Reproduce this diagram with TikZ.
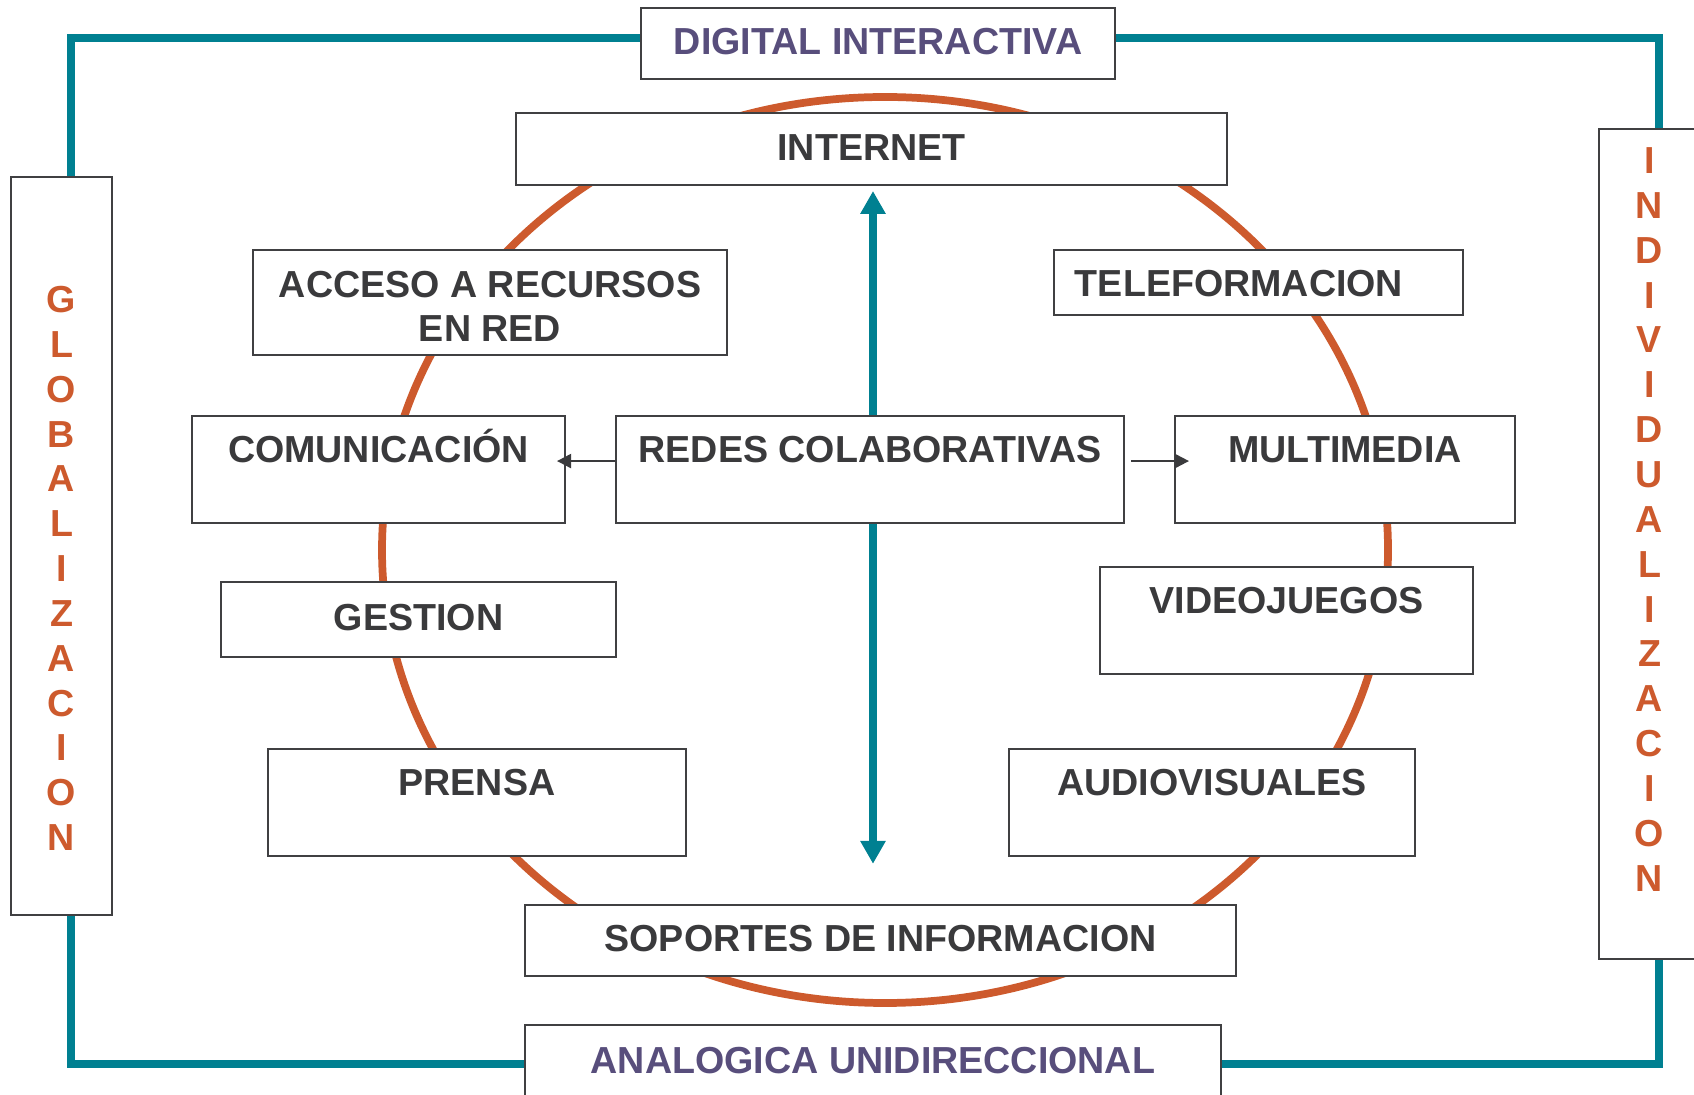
\documentclass[tikz,border=0pt]{standalone}
\usepackage{fontspec}
\setmainfont{Liberation Sans}
\usetikzlibrary{arrows.meta,backgrounds}
\definecolor{azul}{RGB}{0,128,145}
\definecolor{naranja}{RGB}{205,90,45}
\definecolor{morado}{RGB}{88,78,124}
\definecolor{texto}{RGB}{58,58,60}
\definecolor{borde}{RGB}{64,64,66}

\begin{document}
\begin{tikzpicture}[x=0.01cm, y=-0.01cm,
    caja/.style={draw=borde, line width=0.6pt, fill=white, inner sep=0pt, text=texto, align=center,
        font=\bfseries\fontsize{10.7}{12.5}\selectfont},
    linea/.style={caja, text height=6.3pt, text depth=0pt},
    arriba/.style={linea, text height=7.7pt, text depth=11.7pt},
    lado/.style={caja, minimum width=1.01cm},
    letras/.style={inner sep=0pt, align=center, text=naranja, font=\bfseries\fontsize{10.7}{12.75}\selectfont},
    eje/.style={color=azul, line width=2.2pt, -{Triangle[length=6.5pt, width=6.8pt]}},
    flecha/.style={color=texto, line width=0.6pt, -{Triangle[length=4pt, width=4pt]}},
    marco/.style={draw=azul, line width=2.2pt},
    orbita/.style={draw=naranja, line width=2.2pt}]
    \useasboundingbox (0,0) rectangle (1694,1095);

    \node[linea, text=morado, minimum width=4.74cm, minimum height=0.71cm] (digital) at (878,43.5) {DIGITAL INTERACTIVA};
    \node[linea, text=morado, minimum width=6.96cm, minimum height=0.75cm] (analogica) at (873,1062.5) {ANALOGICA UNIDIRECCIONAL};
    \node[lado, minimum height=7.38cm] (global) at (61.5,546) {};
    \node[lado, minimum height=8.30cm] (indiv) at (1649.5,544) {};
    \node[letras] (global-t) at ([yshift=-6.4pt]global.center) {G\\L\\O\\B\\A\\L\\I\\Z\\A\\C\\I\\O\\N};
    \node[letras] (indiv-t) at ([yshift=7pt]indiv.center) {I\\N\\D\\I\\V\\I\\D\\U\\A\\L\\I\\Z\\A\\C\\I\\O\\N};

    \node[linea, minimum width=7.11cm, minimum height=0.72cm] (internet) at (871.5,149) {INTERNET};
    \node[caja, text height=22.1pt, text depth=0pt, minimum width=4.74cm, minimum height=1.05cm] (acceso) at (490,302.5) {ACCESO A RECURSOS\\EN RED};
    \node[linea, text height=7.7pt, align=left, text width=104.4pt, inner xsep=6pt, minimum height=0.65cm] (telef) at (1258.5,282.5) {TELEFORMACION};
    \node[arriba, minimum width=3.73cm, minimum height=1.07cm] (comunic) at (378.5,469.5) {COMUNICACIÓN};
    \node[arriba, minimum width=5.08cm, minimum height=1.07cm] (redes) at (870,469.5) {REDES COLABORATIVAS};
    \node[arriba, minimum width=3.40cm, minimum height=1.07cm] (multi) at (1345,469.5) {MULTIMEDIA};
    \node[linea, minimum width=3.95cm, minimum height=0.75cm] (gestion) at (418.5,619.5) {GESTION};
    \node[arriba, minimum width=3.73cm, minimum height=1.07cm] (video) at (1286.5,620.5) {VIDEOJUEGOS};
    \node[arriba, minimum width=4.18cm, minimum height=1.07cm] (prensa) at (477,802.5) {PRENSA};
    \node[arriba, minimum width=4.06cm, minimum height=1.07cm] (audio) at (1212,802.5) {AUDIOVISUALES};
    \node[linea, minimum width=7.11cm, minimum height=0.71cm] (soportes) at (880.5,940.5) {SOPORTES DE INFORMACION};

    \begin{scope}[on background layer]
        \draw[marco] (71,38) rectangle (1659,1064);
        \draw[orbita] (885,550) ellipse [x radius=503, y radius=453];
    \end{scope}

    \draw[eje, shorten >=1.4pt] ([xshift=0.85pt]redes.north) -- ([xshift=0.85pt]redes.north |- internet.south);
    \draw[eje, shorten >=11.4pt] ([xshift=0.85pt]redes.south) -- ([xshift=0.85pt]redes.south |- soportes.north);
    \draw[flecha, shorten >=-2.6pt] ([yshift=2.4pt]redes.west) -- ([yshift=2.4pt]comunic.east);
    \draw[flecha, shorten <=1.7pt, shorten >=-4.3pt] ([yshift=2.4pt]redes.east) -- ([yshift=2.4pt]multi.west);
\end{tikzpicture}
\end{document}
